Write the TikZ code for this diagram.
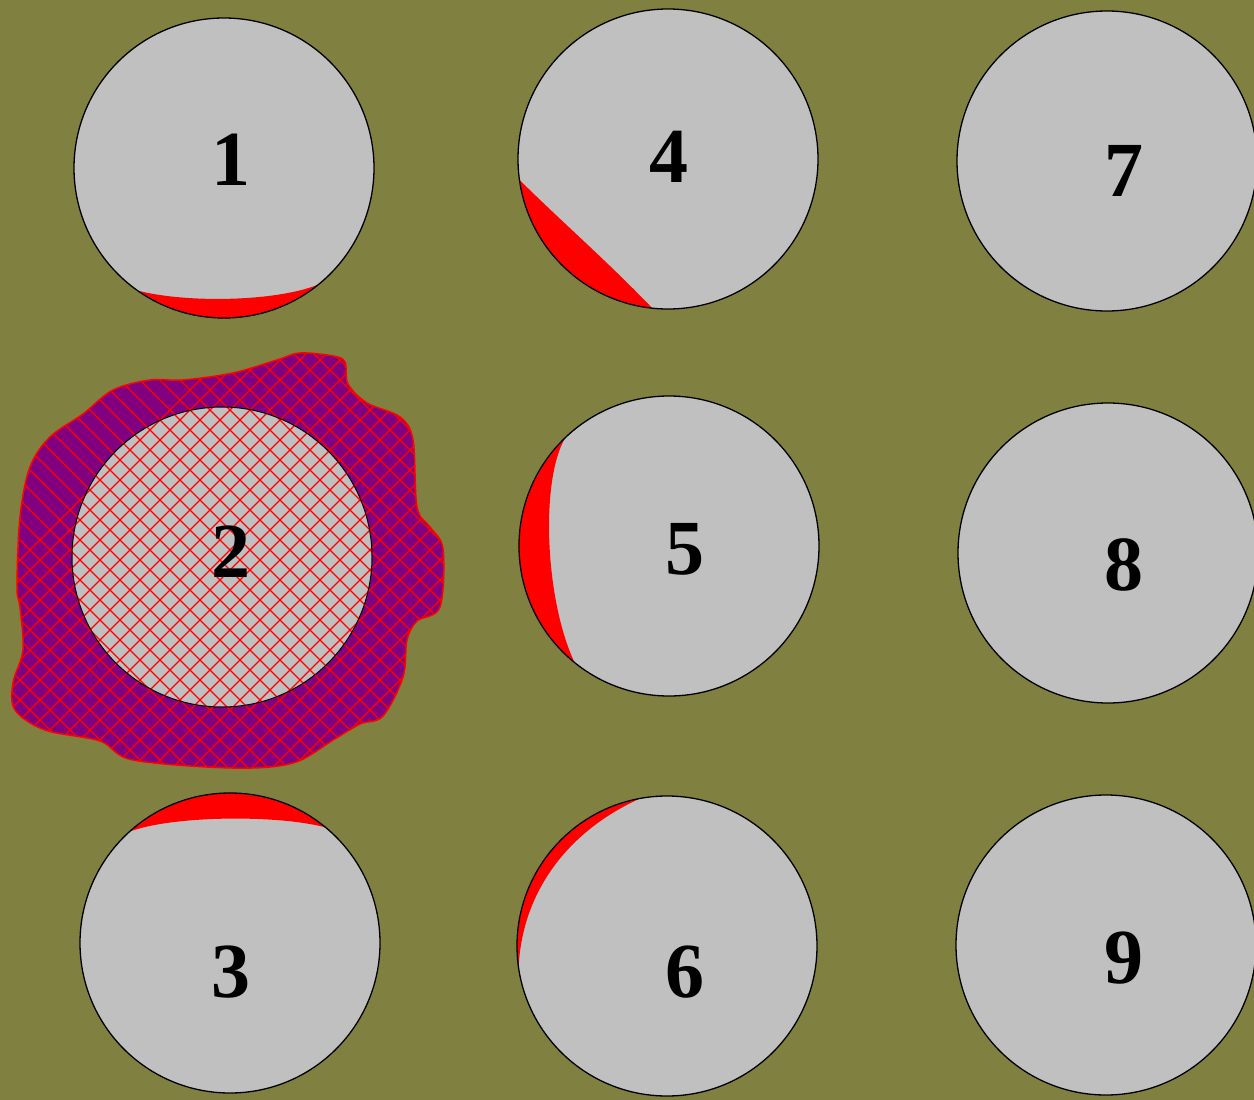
\documentclass[tikz,border=0pt]{standalone}
\usepackage{fontspec}
\setmainfont{Liberation Serif}
\usetikzlibrary{calc}
\definecolor{bgolive}{RGB}{128,128,64}
\definecolor{disk}{RGB}{192,192,192}
\definecolor{blobpurple}{RGB}{128,0,128}
\begin{document}
\begin{tikzpicture}[x=1pt,y=-1pt,
  disc/.style={circle, fill=disk, minimum size=300pt, inner sep=0pt},
  rim/.style={draw=black, line width=1.3pt},
  num/.style={font=\fontsize{78}{80}\selectfont\bfseries, text=black, inner sep=0pt},
  burn/.style={fill=red, draw=none},
  hatch/.style={draw=red, line width=1.2pt}]
\useasboundingbox (0,0) rectangle (1254,1100);
\fill[bgolive] (0,0) rectangle (1254,1100);
\begin{scope}
\clip (0,0) rectangle (1254,1100);
% --- disc 2 with affected zone
\path[fill=blobpurple, draw=red, line width=1.5pt, path picture={
   \fill[disk] (222,557) circle[radius=150pt];
   \foreach \c in {-800,-780,...,220} {\draw[hatch] (\c+300,300) -- (\c+800,800);}
   \foreach \c in {580,600,...,1400} {\draw[hatch] (\c-300,300) -- (\c-800,800);}
  }] plot[smooth cycle, tension=0.55] coordinates {
 (333,356) (345,362) (348,384) (367,403) (400,417) (413,440) (417,507) (430,527)
 (443,549) (440,607) (417,621) (407,640) (403,677) (383,716) (360,724) (333,740)
 (293,763) (233,768) (133,760) (100,741) (45,730) (15,710) (13,683) (23,650)
 (20,607) (17,587) (20,517) (30,467) (50,437) (83,414) (113,390)
 (150,380) (183,380) (233,373) (277,360) (300,353)};
\node[circle, draw=black, line width=1pt, minimum size=300pt, inner sep=0pt] (c2) at (222,557) {};
% --- other discs
\node[disc] (c1) at (224,168) {};
\node[disc] (c4) at (668,159) {};
\node[disc] (c7) at (1107,161) {};
\node[disc] (c5) at (669,546) {};
\node[disc] (c8) at (1108,553) {};
\node[disc] (c3) at (230,943) {};
\node[disc] (c6) at (667,946) {};
\node[disc] (c9) at (1106,945) {};
% --- red crescents
\coordinate (r1) at ($(c1.center)+(234.8:150pt)$);
\path[burn] (r1) arc[start angle=234.8, end angle=309, radius=150pt]
  .. controls (275,302) and (185,303) .. (r1);
\coordinate (r4) at ($(c4.center)+(188:150pt)$);
\path[burn] (r4) arc[start angle=188, end angle=264, radius=150pt]
  .. controls (606,260) and (562,222) .. (r4);
\coordinate (r5) at ($(c5.center)+(133.7:150pt)$);
\path[burn] (r5) arc[start angle=133.7, end angle=231, radius=150pt]
  .. controls (545,600) and (540,480) .. (r5);
\coordinate (r3) at ($(c3.center)+(50.4:150pt)$);
\path[burn] (r3) arc[start angle=50.4, end angle=132, radius=150pt]
  .. controls (175,815) and (280,815) .. (r3);
\coordinate (r6) at ($(c6.center)+(100.3:150pt)$);
\path[burn] (r6) arc[start angle=100.3, end angle=188.4, radius=150pt]
  .. controls (522,890) and (570,830) .. (r6);
% --- rims
\foreach \n in {c1,c3,c4,c5,c6,c7,c8,c9} {\draw[rim] (\n.center) circle[radius=150pt];}
\end{scope}
% --- labels
\node[num] (n1) at (231,160) {1};
\node[num] (n2) at (231,552) {2};
\node[num] (n3) at (231,972) {3};
\node[num] (n4) at (669,157) {4};
\node[num] (n5) at (685,549) {5};
\node[num] (n6) at (685,972) {6};
\node[num] (n7) at (1124,171) {7};
\node[num] (n8) at (1124,565) {8};
\node[num] (n9) at (1124,958) {9};
\end{tikzpicture}
\end{document}
